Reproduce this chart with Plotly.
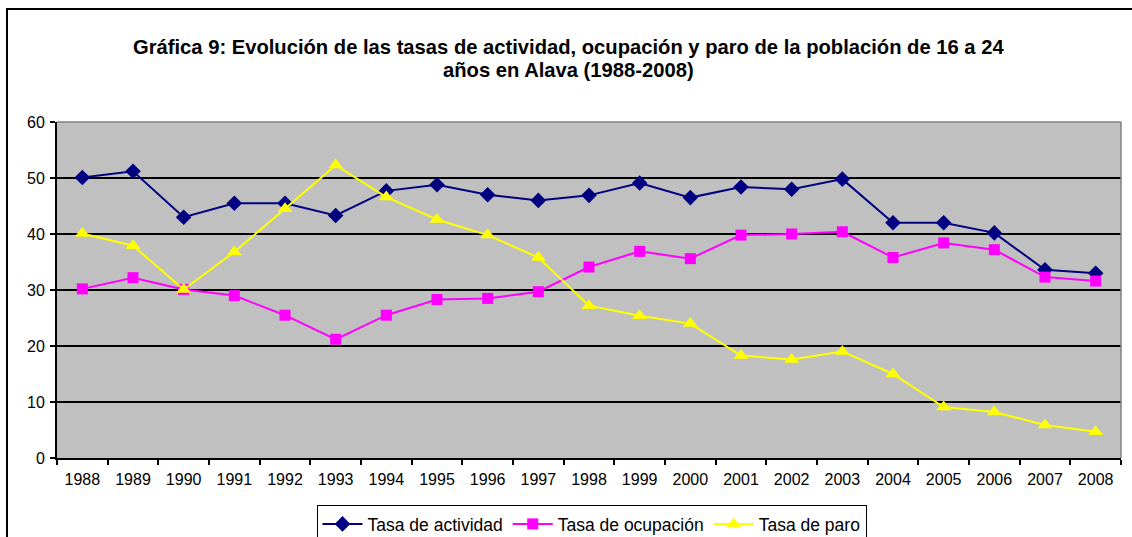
import plotly.graph_objects as go

years = [str(y) for y in range(1988, 2009)]
actividad = [50.1, 51.2, 43.0, 45.5, 45.5, 43.3, 47.7, 48.8, 47.0, 46.0, 46.9,
             49.1, 46.5, 48.4, 48.0, 49.8, 42.0, 42.0, 40.2, 33.6, 33.0]
ocupacion = [30.2, 32.2, 30.1, 29.0, 25.5, 21.2, 25.5, 28.3, 28.5, 29.7, 34.1,
             36.9, 35.6, 39.8, 40.0, 40.4, 35.8, 38.4, 37.2, 32.3, 31.6]
paro = [40.1, 37.9, 30.1, 36.8, 44.5, 52.3, 46.6, 42.6, 39.8, 35.8, 27.2,
        25.4, 24.0, 18.3, 17.6, 19.0, 15.0, 9.1, 8.2, 5.9, 4.7]
series_names = ["Tasa de actividad", "Tasa de ocupación", "Tasa de paro"]
y_ticks = [0, 10, 20, 30, 40, 50, 60]
title_lines = ["Gráfica 9: Evolución de las tasas de actividad, ocupación y paro de la población de 16 a 24",
               "años en Alava (1988-2008)"]

W, H = 1132, 537
ml, mr, mt, mb = 57, 11, 122, 79
pw, ph = W - ml - mr, H - mt - mb

FONT = "Liberation Sans, Arial, sans-serif"

fig = go.Figure()
fig.add_trace(go.Scatter(x=years, y=actividad, name=series_names[0], mode="lines+markers",
                         line=dict(color="#000080", width=2),
                         marker=dict(symbol="diamond", size=12, color="#000080")))
fig.add_trace(go.Scatter(x=years, y=ocupacion, name=series_names[1], mode="lines+markers",
                         line=dict(color="#FF00FF", width=2),
                         marker=dict(symbol="square", size=11, color="#FF00FF")))
fig.add_trace(go.Scatter(x=years, y=paro, name=series_names[2], mode="lines+markers",
                         line=dict(color="#FFFF00", width=2),
                         marker=dict(symbol="triangle-up", size=13, color="#FFFF00")))

fig.update_layout(
    width=W, height=H,
    margin=dict(l=ml, r=mr, t=mt, b=mb, autoexpand=False),
    paper_bgcolor="white", plot_bgcolor="#C0C0C0",
    font=dict(family=FONT, size=16, color="black"),
    showlegend=True,
    legend=dict(orientation="h", x=(591.5 - ml) / pw, xanchor="center",
                y=-(505 - (mt + ph)) / ph, yanchor="top",
                bordercolor="black", borderwidth=1, bgcolor="white",
                font=dict(size=17.5, family=FONT), itemwidth=40, tracegroupgap=0),
    xaxis=dict(type="category", range=[-0.5, 20.5], showgrid=False,
               showline=True, linecolor="black", linewidth=2,
               ticks="outside", tickson="boundaries", ticklen=5, tickcolor="black",
               tickwidth=1.5, tickfont=dict(size=16), ticklabelstandoff=6),
    yaxis=dict(range=[0, 60], tickvals=y_ticks, showgrid=True, gridcolor="black",
               gridwidth=1.8, showline=True, linecolor="black", linewidth=2,
               ticks="outside", ticklen=5, tickcolor="black", tickwidth=1.5,
               tickfont=dict(size=16), zeroline=False, ticklabelstandoff=2),
)

# plot border top/right in gray
fig.add_shape(type="line", xref="paper", yref="paper", x0=0, x1=1, y0=1, y1=1,
              line=dict(color="#808080", width=1.5))
fig.add_shape(type="line", xref="paper", yref="paper", x0=1, x1=1, y0=0, y1=1,
              line=dict(color="#808080", width=1.5))
# outer chart border
fig.add_shape(type="rect", xref="paper", yref="paper",
              x0=(7 - ml) / pw, x1=(1145 - ml) / pw,
              y0=-(550 - mt - ph) / ph, y1=1 + (mt - 9) / ph,
              line=dict(color="black", width=2), layer="below")

for text, top_px in zip(title_lines, [33.5, 57.5]):
    fig.add_annotation(xref="paper", yref="paper", x=(568 - ml) / pw,
                       y=1 + (mt - top_px) / ph, xanchor="center",
                       yanchor="top", showarrow=False, align="center",
                       text="<b>" + text + "</b>",
                       font=dict(size=20.2, family=FONT))

fig.write_html("out.html", config={"displayModeBar": False},
               post_script="document.body.style.margin='0px';document.body.style.overflow='hidden';document.documentElement.style.overflow='hidden';")
